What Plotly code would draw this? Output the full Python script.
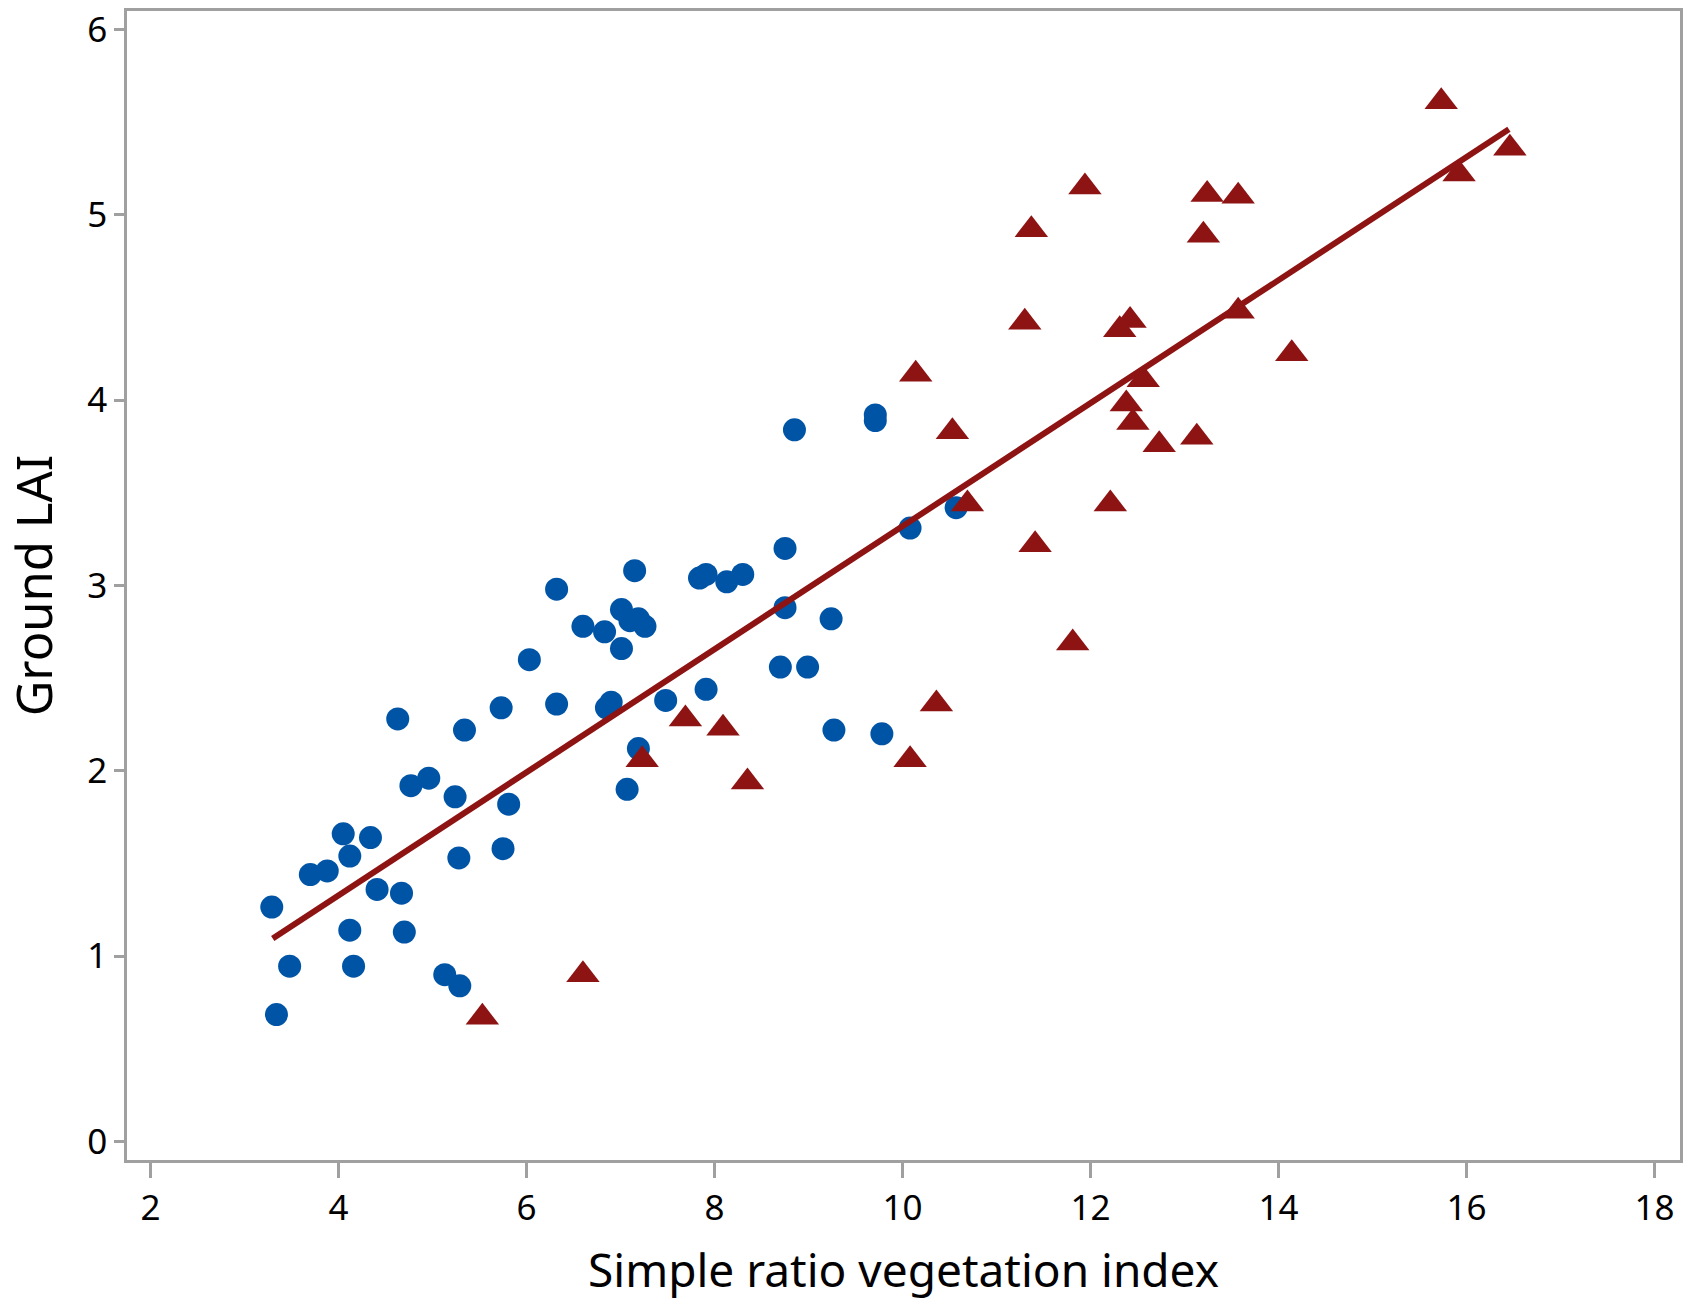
import plotly.graph_objects as go

# Blue circles (calibration group)
blue_x = [3.29, 3.34, 3.48, 3.70, 3.88, 4.05, 4.12, 4.12, 4.16, 4.34, 4.41, 4.63, 4.67, 4.70,
          4.77, 4.96, 5.13, 5.24, 5.28, 5.29, 5.34, 5.73, 5.75, 5.81, 6.03, 6.32, 6.32, 6.60,
          6.83, 6.85, 6.90, 7.01, 7.01, 7.10, 7.15, 7.19, 7.26, 7.07, 7.19, 7.48, 7.84, 7.91,
          7.91, 8.13, 8.30, 8.70, 8.75, 8.75, 8.85, 8.99, 9.24, 9.27, 9.71, 9.71, 9.78, 10.08,
          10.57]
blue_y = [1.265, 0.685, 0.946, 1.44, 1.46, 1.66, 1.54, 1.14, 0.946, 1.64, 1.36, 2.28, 1.34, 1.13,
          1.92, 1.96, 0.90, 1.86, 1.53, 0.84, 2.22, 2.34, 1.58, 1.82, 2.60, 2.98, 2.36, 2.78,
          2.75, 2.34, 2.37, 2.87, 2.66, 2.81, 3.08, 2.82, 2.78, 1.90, 2.12, 2.38, 3.04, 3.06,
          2.44, 3.02, 3.06, 2.56, 2.88, 3.20, 3.84, 2.56, 2.82, 2.22, 3.92, 3.89, 2.20, 3.31,
          3.42]

# Red triangles
red_x = [5.53, 6.60, 7.23, 7.69, 8.09, 8.35, 10.08, 10.14, 10.36, 10.53, 10.69, 11.30, 11.37,
         11.41, 11.81, 11.94, 12.21, 12.31, 12.38, 12.42, 12.45, 12.56, 12.73, 13.13, 13.20,
         13.24, 13.57, 13.57, 14.14, 15.73, 15.92, 16.46]
red_y = [0.67, 0.90, 2.06, 2.28, 2.23, 1.94, 2.06, 4.14, 2.36, 3.83, 3.44, 4.42, 4.92,
         3.22, 2.69, 5.15, 3.44, 4.38, 3.98, 4.43, 3.88, 4.11, 3.76, 3.80, 4.89,
         5.11, 5.10, 4.48, 4.25, 5.61, 5.22, 5.36]

# Regression line
fit_slope = 0.332
fit_intercept = 0.0
fit_x = [3.30, 16.45]
fit_y = [fit_intercept + fit_slope * v for v in fit_x]

x_ticks = [2, 4, 6, 8, 10, 12, 14, 16, 18]
y_ticks = [0, 1, 2, 3, 4, 5, 6]

BLUE = "#0054A6"
RED = "#8E1414"
GREY = "#A0A0A0"
FONT = "Noto Sans"

fig = go.Figure()
fig.add_trace(go.Scatter(x=blue_x, y=blue_y, mode="markers",
                         marker=dict(symbol="circle", size=23, color=BLUE, line=dict(width=0)),
                         showlegend=False))
fig.add_trace(go.Scatter(x=red_x, y=red_y, mode="markers",
                         marker=dict(symbol="triangle-up", size=29, color=RED, line=dict(width=0)),
                         showlegend=False))
fig.add_trace(go.Scatter(x=fit_x, y=fit_y, mode="lines",
                         line=dict(color=RED, width=6), showlegend=False))

fig.update_layout(
    width=1688, height=1300,
    margin=dict(l=127, r=5, t=11, b=140),
    paper_bgcolor="white", plot_bgcolor="white",
    font=dict(family=FONT, color="black"),
)
fig.update_xaxes(
    range=[1.75, 18.27], tickvals=x_ticks, ticktext=[str(v) for v in x_ticks],
    showgrid=False, zeroline=False, showline=True, linecolor=GREY, linewidth=2.5, mirror=True,
    ticks="outside", ticklen=15, tickwidth=2.5, tickcolor=GREY,
    tickfont=dict(size=35, family=FONT, color="black"),
    title=dict(text="Simple ratio vegetation index", font=dict(size=46, family=FONT, color="black"), standoff=30),
)
fig.update_yaxes(
    range=[-0.1, 6.1], tickvals=y_ticks, ticktext=[str(v) for v in y_ticks],
    showgrid=False, zeroline=False, showline=True, linecolor=GREY, linewidth=2.5, mirror=True,
    ticks="outside", ticklen=10, tickwidth=2.5, tickcolor=GREY,
    tickfont=dict(size=35, family=FONT, color="black"),
    title=dict(text="Ground LAI", font=dict(size=49, family=FONT, color="black"), standoff=20),
)

fig.write_html("out.html")
